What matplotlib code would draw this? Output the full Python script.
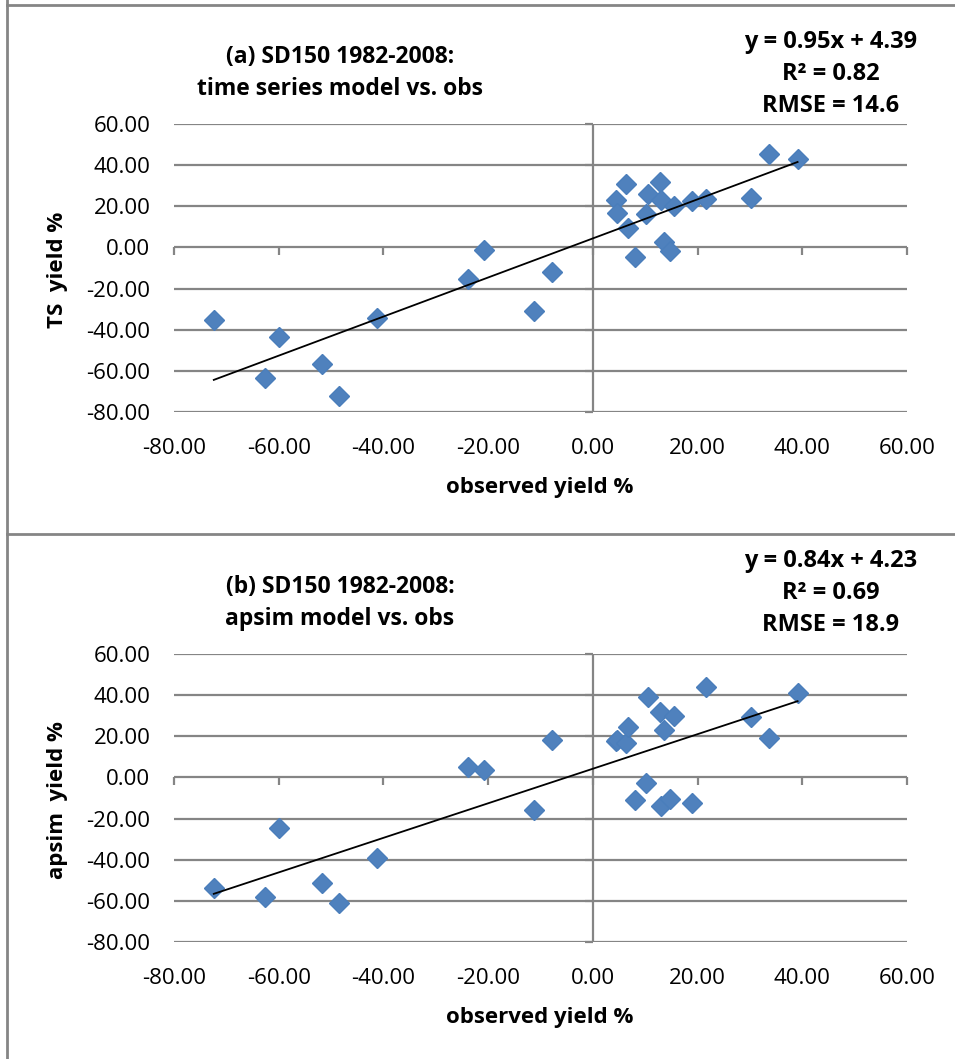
import matplotlib
matplotlib.use("Agg")
from matplotlib import pyplot as plt
from matplotlib.lines import Line2D
import matplotlib.markers as mk
import numpy as np

# observed yield anomaly %, 1982-2008 (sorted by observed)
observed = [-72.4, -62.6, -59.9, -51.7, -48.4, -41.2, -23.8, -20.7, -11.3, -7.8,
            4.4, 4.6, 6.4, 6.7, 8.0, 10.2, 10.6, 12.9, 13.0, 13.6,
            14.7, 15.5, 18.9, 21.7, 30.2, 33.7, 39.1]
ts_model = [-35.5, -63.4, -43.6, -56.6, -72.0, -34.2, -15.2, -1.1, -31.0, -12.0,
            22.9, 16.7, 30.7, 9.6, -4.7, 16.4, 25.8, 31.6, 23.2, 2.6,
            -1.8, 20.3, 22.5, 23.5, 24.0, 45.6, 42.8]
apsim_model = [-53.8, -58.0, -24.7, -51.2, -61.0, -39.2, 5.0, 3.7, -15.8, 18.0,
               17.7, 18.3, 16.7, 24.5, -10.9, -2.8, 38.9, 31.7, -14.1, 22.9,
               -10.7, 29.9, -12.5, 43.8, 29.4, 19.4, 40.8]

# trendline coefficients and stats as printed on the chart
ts_fit = (0.95, 4.39, 0.82, 14.6)
apsim_fit = (0.84, 4.23, 0.69, 18.9)

xticks = [-80, -60, -40, -20, 0, 20, 40, 60]
yticks = [-80, -60, -40, -20, 0, 20, 40, 60]

W, H = 955, 1059
GRAY = "#858585"
BLUE = "#4f81bd"
TICKFONT = ["Open Sans", "DejaVu Sans"]
BOLDFONT = ["Open Sans", "DejaVu Sans"]

fig = plt.figure(figsize=(W / 100, H / 100), dpi=100)


def fx(px):
    return px / W


def fy(py):
    return 1 - py / H


def panel(top, ylab, yvals, fit, title, ann_off):
    ax = fig.add_axes([fx(174), fy(top + 288), fx(907) - fx(174), fy(top) - fy(top + 288)])
    ax.set_xlim(-80, 60)
    ax.set_ylim(-80, 60)
    for s in ax.spines.values():
        s.set_visible(False)
    ax.set_xticks(xticks)
    ax.set_yticks(yticks)
    ax.set_xticklabels([f"{t:.2f}" for t in xticks], family=TICKFONT, fontsize=16)
    ax.set_yticklabels([f"{t:.2f}" for t in yticks], family=TICKFONT, fontsize=16)
    ax.tick_params(axis="x", length=0, pad=19)
    ax.tick_params(axis="y", length=0, pad=17)
    for t in yticks:
        ax.axhline(t, color=GRAY, lw=1.6, zorder=1)
    ax.axvline(0, color=GRAY, lw=1.6, zorder=1)
    # small tick marks on the zero axes
    ax.plot(xticks, [0] * len(xticks), ls="none", marker=mk.TICKDOWN, ms=6,
            mew=1.6, color=GRAY, zorder=1, clip_on=False)
    ax.plot([0] * len(yticks), yticks, ls="none", marker=mk.TICKLEFT, ms=6,
            mew=1.6, color=GRAY, zorder=1, clip_on=False)

    ax.plot(observed, yvals, ls="none", marker="D", ms=10, mfc=BLUE,
            mec="#4a7ebb", zorder=3, clip_on=False)
    slope, icpt, r2, rmse = fit
    xl = np.array([min(observed), max(observed)])
    ax.plot(xl, slope * xl + icpt, color="black", lw=1.3, zorder=4)

    fig.text(fx(57), fy(top + 146), ylab, rotation=90, ha="center", va="center",
             family=BOLDFONT, fontweight="bold", fontsize=16)
    fig.text(fx(540), fy(top + 363), "observed yield %", ha="center", va="center",
             family=BOLDFONT, fontweight="bold", fontsize=16)
    fig.text(fx(340), fy(top - 51), title, ha="center", va="center",
             family=BOLDFONT, fontweight="bold", fontsize=16.5, linespacing=1.4)
    fig.text(fx(831), fy(top - ann_off),
             f"y = {slope:.2f}x + {icpt:.2f}\nR\u00b2 = {r2:.2f}\nRMSE = {rmse}",
             ha="center", va="center", family=BOLDFONT, fontweight="bold",
             fontsize=17, linespacing=1.42)
    return ax


panel(124, "TS  yield %", ts_model, ts_fit,
      "(a) SD150 1982-2008:\ntime series model vs. obs", 50)
panel(654, "apsim  yield %", apsim_model, apsim_fit,
      "(b) SD150 1982-2008:\napsim model vs. obs", 61)

# chart area borders
for xs, ys in [([fx(7), fx(7)], [0, 1]), ([fx(7), 1], [fy(5), fy(5)]),
               ([fx(7), 1], [fy(534), fy(534)])]:
    fig.add_artist(Line2D(xs, ys, color=GRAY, lw=2))

fig.savefig("out.png", dpi=100, facecolor="white")
